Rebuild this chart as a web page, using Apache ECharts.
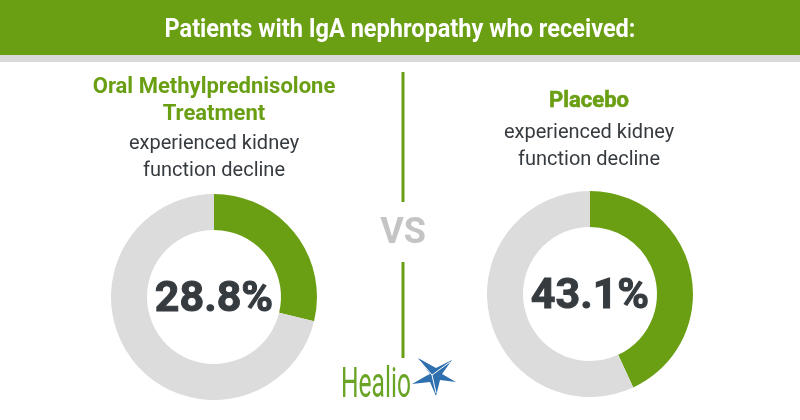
<!DOCTYPE html>
<html><head><meta charset="utf-8">
<script src="https://cdn.jsdelivr.net/npm/echarts@6/dist/echarts.min.js"></script>
<style>html,body{margin:0;padding:0;background:#fff}#c{width:800px;height:420px}</style>
</head><body><div id="c"></div>
<script>
const headerTitle = 'Patients with IgA nephropathy who received:';
const groupNames = ['Oral Methylprednisolone\nTreatment', 'Placebo'];
const subtitle = 'experienced kidney\nfunction decline';
const declinePct = [28.8, 43.1];
const vsText = 'VS';
const brand = 'Healio';

const GREEN = '#6a9f14', GRAY = '#dcdcdc', DARK = '#363b40';
const chart = echarts.init(document.getElementById('c'), null, {renderer: 'canvas'});

const cv = document.createElement('canvas').getContext('2d');
cv.font = 'bold 26px Roboto';
const sx = 471 / cv.measureText(headerTitle).width;
cv.font = '42px Roboto';
const bx = 70 / cv.measureText(brand).width;

const centers = [[214, 297], [590, 294]];
const series = declinePct.map((v, i) => ({
  type: 'pie', center: centers[i], radius: [67, 103], startAngle: 90, clockwise: true,
  silent: true, animation: false, label: {show: false}, labelLine: {show: false},
  data: [{value: v, itemStyle: {color: GREEN}}, {value: +(100 - v).toFixed(1), itemStyle: {color: GRAY}}]
}));

const graphic = [
  {type: 'rect', shape: {x: 0, y: 0, width: 800, height: 55}, style: {fill: GREEN}},
  {type: 'rect', shape: {x: 0, y: 55, width: 800, height: 7}, style: {fill: '#d9d9d9'}},
  {type: 'text', x: 400, y: 30, scaleX: sx, style: {text: headerTitle, fill: '#fff', font: 'bold 26px Roboto', align: 'center', verticalAlign: 'middle'}},
  {type: 'text', x: 214, y: 101, style: {text: groupNames[0], fill: GREEN, font: 'bold 22px Roboto', align: 'center', verticalAlign: 'middle', lineHeight: 27, textStroke: GREEN, lineWidth: 0.6}},
  {type: 'text', x: 214, y: 157, style: {text: subtitle, fill: DARK, font: '20px Roboto', align: 'center', verticalAlign: 'middle', lineHeight: 27}},
  {type: 'text', x: 589, y: 101, style: {text: groupNames[1], fill: GREEN, font: 'bold 22px Roboto', align: 'center', verticalAlign: 'middle', stroke: GREEN, lineWidth: 0.6}},
  {type: 'text', x: 589, y: 146, style: {text: subtitle, fill: DARK, font: '20px Roboto', align: 'center', verticalAlign: 'middle', lineHeight: 27}},
  {type: 'line', shape: {x1: 403, y1: 72, x2: 403, y2: 202}, style: {stroke: GREEN, lineWidth: 3}},
  {type: 'line', shape: {x1: 403, y1: 262, x2: 403, y2: 358}, style: {stroke: GREEN, lineWidth: 3}},
  {type: 'text', x: 403, y: 234, style: {text: vsText, fill: '#c4c4c4', font: 'bold 36px Roboto', align: 'center', verticalAlign: 'middle'}},
  {type: 'text', x: 341, y: 386, scaleX: bx, style: {text: brand, fill: '#6aa425', font: '42px Roboto', align: 'left', verticalAlign: 'middle'}},
  {type: 'polygon', shape: {points: [[430,374],[418,358],[436,368],[452,360],[442,374],[456,382],[440,380],[436,396],[430,382],[412,384],[426,376]]}, style: {fill: '#2e6fae'}},
  {type: 'polyline', shape: {points: [[420,361],[432,375],[450,362]]}, style: {stroke: '#fff', lineWidth: 1}},
  {type: 'polyline', shape: {points: [[432,375],[436,393]]}, style: {stroke: '#fff', lineWidth: 1}}
];
declinePct.forEach((v, i) => {
  graphic.push({type: 'text', x: centers[i][0], y: centers[i][1] + 3, style: {text: v.toFixed(1) + '%', fill: DARK, font: 'bold 43px Roboto', align: 'center', verticalAlign: 'middle', stroke: DARK, lineWidth: 1}});
});

chart.setOption({animation: false, series, graphic});
</script></body></html>
